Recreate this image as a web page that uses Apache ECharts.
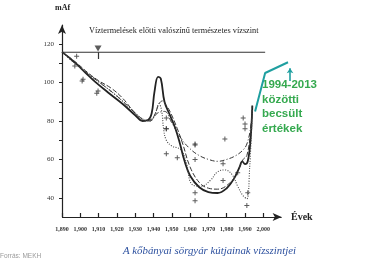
<!DOCTYPE html>
<html><head><meta charset="utf-8">
<script src="https://cdn.jsdelivr.net/npm/echarts@6/dist/echarts.min.js"></script>
<style>html,body{margin:0;padding:0;background:#fff}#c{width:375px;height:261px}</style>
</head><body><div id="c"></div>
<script>
var solidYears  = [1890,1897,1903,1908,1915,1923,1930,1934,1937,1939,1940.5,1942.5,1944,1946,1949,1952,1954.5,1957,1960,1965,1970,1975,1980,1984,1987,1988.5,1990,1991.5,1993,1994];
var solidValues = [116,110.5,105,100.5,95,89,83,80,80.5,84,95,103,102,90,83,76,68,59,51.5,45.5,43,42.5,45,50,56,59,57.5,59,70,88];
var dashYears  = [1890,1897,1905,1910,1917,1923,1930,1935,1939,1941,1943,1945,1947,1949,1953,1956,1960,1965,1970,1975,1982,1986,1989,1991,1993,1994];
var dashValues = [116,111,104.5,101,97,92,84,80,81,84,89,90.5,88,85,76,68,56,48,45,44.5,48,54,60,62,74,88];
var dashDotYears  = [1890,1897,1905,1912,1920,1928,1934,1938,1942,1946,1950,1955,1960,1965,1970,1975,1980,1985,1989,1991,1993,1994];
var dashDotValues = [116,110,104,99,93,86,81,80,84,85,79,71,65.5,62,60,59,60,62,65,68,76,86];
var dotYears  = [1890,1897,1905,1912,1920,1928,1934,1938,1941,1943,1944.5,1945.5,1947,1950,1955,1958,1961,1966,1971,1975,1979,1983,1986,1989,1991,1992.5,1994];
var dotValues = [116,110,104,99,93,86,81,80,84,89,85,76,70,67,65,58,47,46,49,53.5,54.5,52,46,41,39.5,55,86];
var pointYears  = [1897,1898,1901,1901.5,1909,1909.7,1947,1947,1947,1947,1953,1962.7,1962.7,1962.7,1962.7,1962.7,1978,1978,1979,1986,1989,1990,1990,1991,1991.5];
var pointValues = [108.6,113.7,100.8,101.8,94.5,95.6,81.6,76,76,63,60.8,68,67.5,60,42.6,38.4,57.7,49,70.6,53,81.6,78.4,76,36,42.6];
var estYears  = [1995.5,2001,2013.5];
var estValues = [85,105,110.6];
var naturalYears = [1890,2001];
var naturalLevel = 115.8;
var yLabels = [40,60,80,100,120];
var yTicks = [40,50,60,70,80,90,100,110,120];
var xLabels = [1890,1900,1910,1920,1930,1940,1950,1960,1970,1980,1990,2000];
var xAxisEnd = 2010;

function zip(a,b){return a.map(function(v,i){return [v,b[i]];});}
var serif = 'Liberation Serif';
var plus = 'path://M4,0h2v4h4v2h-4v4h-2v-4h-4v-2h4z';

var chart = echarts.init(document.getElementById('c'), null, {renderer:'canvas'});
chart.setOption({
  animation:false,
  grid:{left:62,right:82.4,top:25,bottom:44},
  xAxis:{type:'value',min:1890,max:2016,interval:10,
    axisLine:{show:false},
    axisTick:{show:true,inside:true,length:4,customValues:xLabels,lineStyle:{color:'#222',width:1.2}},
    axisLabel:{customValues:xLabels,fontFamily:serif,fontSize:6,fontWeight:'bold',color:'#333',margin:9},
    splitLine:{show:false}},
  yAxis:{type:'value',min:30,max:130,interval:10,
    axisLine:{show:true,lineStyle:{color:'#222',width:1.2},symbol:['none','arrow'],symbolSize:[6,9]},
    axisTick:{show:true,length:3,customValues:yTicks,lineStyle:{color:'#222'}},
    axisLabel:{customValues:yLabels,fontFamily:serif,fontSize:7,color:'#333',margin:8},
    splitLine:{show:false}},
  graphic:[
    {type:'text',left:55,top:4,style:{text:'mAf',fontFamily:serif,fontWeight:'bold',fontSize:8,fill:'#222'}},
    {type:'text',left:89,top:26.5,style:{text:'Víztermelések előtti valószínű természetes vízszint',fontFamily:serif,fontSize:8.3,fill:'#222'}},
    {type:'text',left:291,top:212,style:{text:'Évek',fontFamily:serif,fontWeight:'bold',fontSize:10,fill:'#222'}},
    {type:'text',left:262,top:78,style:{text:'1994-2013\nközötti\nbecsült\nértékek',fontFamily:'Liberation Sans',fontWeight:'bold',fontSize:11.5,lineHeight:14.5,fill:'#35a94f'}},
    {type:'text',left:123,top:246,style:{text:'A kőbányai sörgyár kútjainak vízszintjei',fontFamily:serif,fontStyle:'italic',fontSize:10.8,fill:'#2b4f9e'}},
    {type:'text',left:0,top:253,style:{text:'Forrás: MEKH',fontFamily:'Liberation Sans',fontSize:6.5,fill:'#9a9a9a'}}
  ],
  series:[
    {type:'line',data:naturalYears.map(function(x){return [x,naturalLevel];}),symbol:'none',lineStyle:{color:'#333',width:1.2},
      markLine:{silent:true,symbol:'none',label:{show:false},lineStyle:{color:'#333',width:1.2,type:'solid'},
        data:[[{coord:[1909.7,naturalLevel]},{coord:[1909.7,112.3]}]]}},
    {type:'line',data:[],symbol:'none',
      markLine:{silent:true,symbol:['none','arrow'],symbolSize:[6,9],label:{show:false},lineStyle:{color:'#222',width:1.2,type:'solid'},
        data:[[{coord:[1890,30]},{coord:[xAxisEnd,30]}]]}},
    {type:'scatter',data:[[1909.7,117.8]],symbol:'triangle',symbolRotate:180,symbolSize:[7,6],itemStyle:{color:'#333'}},
    {type:'line',data:zip(solidYears,solidValues),smooth:0.4,symbol:'none',lineStyle:{color:'#222',width:1.8}},
    {type:'line',data:zip(dashYears,dashValues),smooth:0.4,symbol:'none',lineStyle:{color:'#333',width:1,type:[5,2]}},
    {type:'line',data:zip(dashDotYears,dashDotValues),smooth:0.4,symbol:'none',lineStyle:{color:'#333',width:1,type:[5,2,1,2]}},
    {type:'line',data:zip(dotYears,dotValues),smooth:0.4,symbol:'none',lineStyle:{color:'#444',width:1.1,type:[1,1.5]}},
    {type:'scatter',data:zip(pointYears,pointValues),symbol:plus,symbolSize:5,itemStyle:{color:'#333'}},
    {type:'line',data:zip(estYears,estValues),symbol:'none',lineStyle:{color:'#1f9fa0',width:2},
      markLine:{silent:true,symbol:['none','arrow'],symbolSize:[5,5],label:{show:false},lineStyle:{color:'#1f9fa0',width:1.6,type:'solid'},
        data:[[{coord:[2014.6,100.8]},{coord:[2014.6,107.5]}]]}}
  ]
});
</script></body></html>
